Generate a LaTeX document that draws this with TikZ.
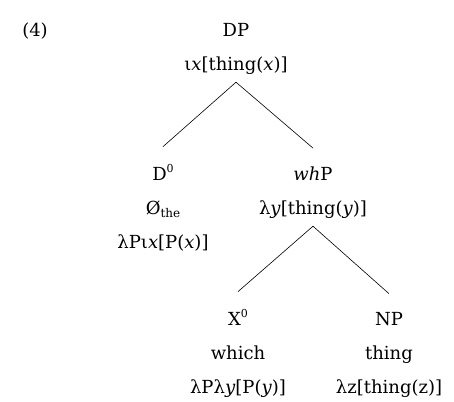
\documentclass[tikz,border=0pt]{standalone}
\usepackage{fontspec}
\setmainfont{DejaVu Serif}
\usetikzlibrary{positioning}
\tikzset{
  lbl/.style={align=center, font=\fontsize{18}{34}\selectfont, inner sep=0pt},
  branch/.style={black, line width=0.6pt}
}
\newcommand{\vx}{\textit{x}}
\newcommand{\vy}{\textit{y}}
\newcommand{\supsm}[1]{\raisebox{0.75ex}{\fontsize{11}{11}\selectfont #1}}
\newcommand{\subsm}[1]{\raisebox{-0.35ex}{\fontsize{12}{12}\selectfont #1}}

\begin{document}
\begin{tikzpicture}[x=1pt, y=-1pt]
  \useasboundingbox (0,0) rectangle (454,401);
  % anchor=base sits on the last line
  \node[lbl, anchor=base] (ex) at (35,37) {(4)};
  \node[lbl, anchor=base] (dp) at (236,71) {DP\\ι\vx[thing(\vx)]};
  \node[lbl, anchor=base] (d0) at (163,248) {D\supsm{0}\\Ø\subsm{the}\\λPι\vx[P(\vx)]};
  \node[lbl, anchor=base] (whp) at (313,214) {\textit{wh}P\\λ\vy[thing(\vy)]};
  \node[lbl, anchor=base] (x0) at (238,393) {X\supsm{0}\\which\\λPλ\vy[P(\vy)]};
  \node[lbl, anchor=base] (np) at (389,393) {NP\\thing\\λz[thing(z)]};

  \draw[branch] ([yshift=-7pt]dp.south) -- ([yshift=18pt]d0.north);
  \draw[branch] ([yshift=-7pt]dp.south) -- ([yshift=18pt]whp.north);
  \draw[branch] ([yshift=-8pt]whp.south) -- ([yshift=18pt]x0.north);
  \draw[branch] ([yshift=-8pt]whp.south) -- ([yshift=18pt]np.north);
\end{tikzpicture}
\end{document}
